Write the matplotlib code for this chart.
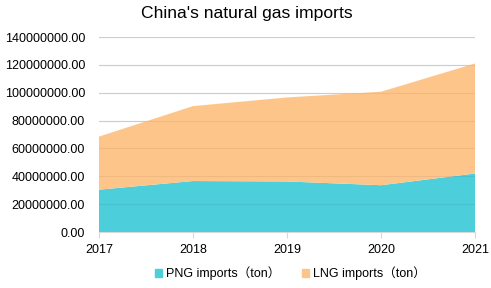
import matplotlib.pyplot as plt
from matplotlib.patches import Patch
from matplotlib.ticker import FuncFormatter

years = [2017, 2018, 2019, 2020, 2021]
png_imports = [30.4e6, 36.6e6, 36.3e6, 33.6e6, 42.0e6]
lng_imports = [38.1e6, 53.8e6, 60.3e6, 67.1e6, 79.0e6]
y_ticks = [0, 20e6, 40e6, 60e6, 80e6, 100e6, 120e6, 140e6]

PNG_COLOR = "#4ccfdb"
LNG_COLOR = "#fec58b"
FONT = ["Liberation Sans", "Noto Sans CJK SC", "DejaVu Sans"]

plt.rcParams["font.family"] = FONT

fig = plt.figure(figsize=(4.91, 2.88), dpi=100)
ax = fig.add_axes([0.2016, 0.1944, 0.7658, 0.6771])

ax.stackplot(years, png_imports, lng_imports,
             colors=[PNG_COLOR, LNG_COLOR], lw=0, zorder=1)

ax.set_xlim(years[0], years[-1])
ax.set_ylim(y_ticks[0], y_ticks[-1])
ax.set_xticks(years)
ax.set_yticks(y_ticks)
ax.yaxis.set_major_formatter(FuncFormatter(lambda v, _: f"{v:.2f}"))

# faint grid drawn over the fills, light grey above them
ax.grid(axis="y", color="black", alpha=0.06, lw=0.8, zorder=2)
ax.grid(axis="x", visible=False)
ax.set_axisbelow(False)
for v in y_ticks[1:]:
    ax.axhline(v, color="#d9d9d9", lw=0.8, zorder=0)
for s in ("top", "right", "left"):
    ax.spines[s].set_visible(False)
ax.spines["bottom"].set_color("#d9d9d9")
ax.spines["bottom"].set_linewidth(0.8)

ax.tick_params(axis="y", length=0, labelsize=9, pad=10, colors="#000000")
ax.tick_params(axis="x", length=4, width=0.8, color="#d9d9d9",
               labelsize=9, pad=4.5)

fig.text(0.502, 0.952, "China's natural gas imports", fontsize=12.6,
         ha="center", va="center")

handles = [Patch(color=PNG_COLOR, label="PNG imports（ton）"),
           Patch(color=LNG_COLOR, label="LNG imports（ton）")]
fig.legend(handles=handles, loc="center", bbox_to_anchor=(0.591, 0.05),
           ncol=2, frameon=False, fontsize=9, handlelength=0.6,
           handleheight=0.6, handletextpad=0.3, columnspacing=1.7)

fig.savefig("out.png", dpi=100)
